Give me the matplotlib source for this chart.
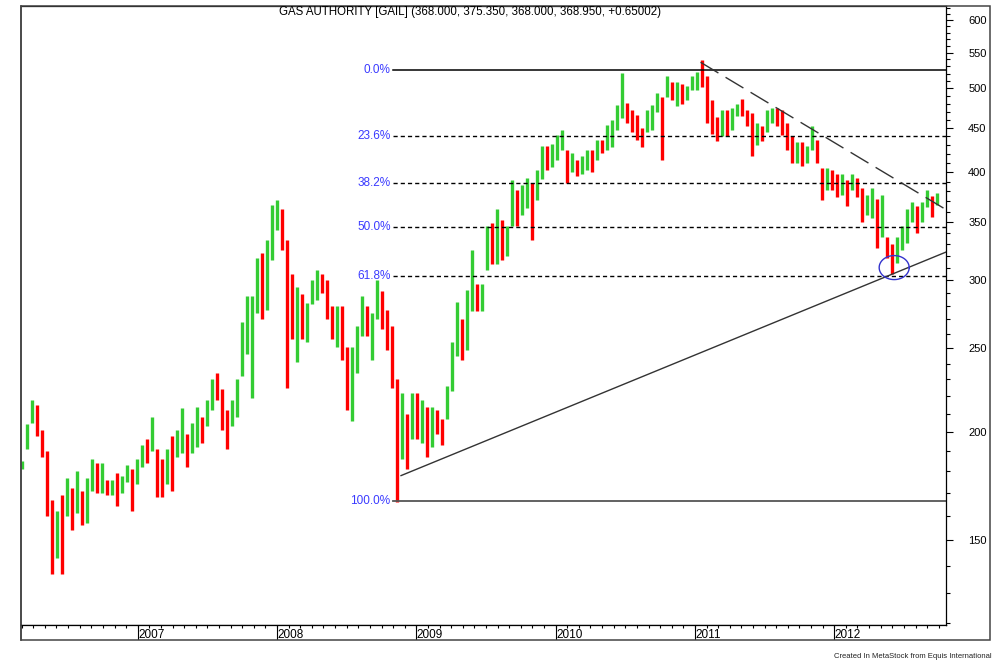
import matplotlib
matplotlib.use('Agg')
import matplotlib.pyplot as plt
import numpy as np
from matplotlib.ticker import FixedLocator, NullFormatter, FuncFormatter
from matplotlib.patches import Rectangle

plt.rcParams['font.family'] = ['Liberation Sans', 'DejaVu Sans']

title = 'GAS AUTHORITY [GAIL] (368.000, 375.350, 368.000, 368.950, +0.65002)'
credit = 'Created In MetaStock from Equis International'

# price bars (about one bar per fortnight)
first_bar = 2006.17
bar_step = 0.0359
highs = [185, 204, 218, 215, 201, 190, 167, 162, 169, 177,
         172, 180, 171, 177, 186, 184, 184, 176, 176, 179,
         178, 183, 181, 186, 193, 196, 208, 191, 186, 191,
         198, 201, 213, 199, 205, 214, 208, 218, 230, 234,
         224, 212, 218, 230, 268, 287, 287, 318, 322, 334,
         366, 371, 362, 334, 305, 294, 289, 282, 300, 308,
         305, 300, 280, 280, 280, 251, 251, 265, 287, 280,
         275, 300, 291, 277, 265, 230, 222, 210, 222, 222,
         218, 214, 214, 212, 207, 226, 254, 283, 270, 292,
         325, 297, 297, 346, 349, 362, 352, 346, 392, 381,
         386, 394, 388, 402, 429, 429, 431, 441, 448, 424,
         421, 413, 418, 424, 424, 436, 436, 454, 460, 478,
         521, 481, 472, 466, 450, 472, 478, 494, 489, 517,
         509, 509, 506, 503, 517, 522, 539, 517, 485, 463,
         472, 472, 475, 480, 486, 472, 468, 456, 452, 472,
         475, 475, 472, 456, 440, 433, 433, 429, 452, 436,
         404, 404, 402, 398, 398, 392, 398, 394, 383, 376,
         383, 372, 376, 336, 330, 336, 346, 362, 369, 365,
         369, 381, 375, 378]
lows = [181, 191, 205, 198, 187, 160, 137, 143, 137, 160,
        154, 161, 156, 157, 171, 170, 170, 169, 169, 164,
        170, 175, 162, 174, 182, 184, 190, 168, 168, 174,
        171, 187, 189, 182, 189, 192, 194, 203, 212, 218,
        201, 191, 203, 208, 232, 246, 219, 275, 270, 277,
        316, 343, 325, 225, 256, 241, 256, 254, 281, 284,
        290, 270, 256, 251, 242, 212, 206, 234, 258, 258,
        242, 270, 263, 249, 225, 166, 186, 181, 196, 196,
        194, 187, 192, 199, 193, 207, 223, 245, 242, 249,
        276, 276, 276, 308, 313, 313, 316, 320, 346, 346,
        357, 363, 334, 371, 393, 402, 405, 413, 424, 388,
        400, 396, 398, 402, 400, 413, 421, 424, 428, 448,
        462, 456, 445, 436, 428, 445, 448, 469, 413, 489,
        485, 477, 479, 485, 498, 498, 502, 456, 443, 434,
        440, 440, 448, 464, 464, 452, 418, 430, 434, 445,
        456, 452, 442, 424, 410, 410, 406, 410, 424, 410,
        371, 381, 381, 374, 376, 365, 381, 374, 350, 357,
        354, 327, 336, 318, 305, 314, 325, 331, 350, 340,
        350, 364, 355, 366]
closes = [183, 200, 212, 203, 190, 165, 150, 155, 148, 170,
          162, 172, 163, 170, 180, 176, 178, 172, 174, 170,
          175, 180, 170, 181, 189, 188, 200, 178, 174, 184,
          180, 195, 200, 190, 198, 205, 200, 212, 224, 222,
          210, 200, 212, 225, 255, 262, 280, 300, 290, 320,
          350, 360, 335, 300, 270, 280, 265, 275, 292, 300,
          296, 280, 265, 270, 255, 225, 240, 255, 280, 265,
          270, 290, 275, 260, 235, 200, 205, 195, 210, 205,
          212, 198, 205, 203, 200, 220, 245, 270, 255, 285,
          300, 285, 292, 335, 325, 345, 330, 340, 380, 360,
          375, 385, 360, 395, 420, 415, 425, 430, 435, 400,
          410, 405, 410, 415, 408, 428, 426, 445, 450, 470,
          475, 465, 455, 445, 440, 465, 470, 485, 480, 505,
          495, 500, 490, 498, 510, 515, 510, 470, 455, 445,
          460, 450, 465, 475, 470, 460, 430, 445, 440, 465,
          470, 460, 450, 430, 420, 425, 415, 420, 440, 415,
          380, 395, 390, 385, 392, 375, 390, 380, 360, 370,
          375, 335, 345, 325, 315, 330, 340, 355, 360, 350,
          362, 375, 365, 369]

# fibonacci retracement from the 2008 low to the 2010 high
fib_high = 525.0
fib_low = 166.4
fib_start = 2008.83
fib_levels = [0.0, 23.6, 38.2, 50.0, 61.8, 100.0]

support_x = [2008.89, 2012.80]
support_y = [178, 323]
resist_x = [2011.04, 2012.80]
resist_y = [536, 362]
circle_x, circle_y = 2012.43, 310

years = [2007, 2008, 2009, 2010, 2011, 2012]
price_ticks = [150, 200, 250, 300, 350, 400, 450, 500, 550, 600]

xmin, xmax = 2006.162, 2012.802
ymin, ymax = 119.5, 622.8

W, H = 1008, 660
fig = plt.figure(figsize=(W / 100, H / 100), dpi=100)


def box(x0, y0, x1, y1):
    return [x0 / W, 1 - y1 / H, (x1 - x0) / W, (y1 - y0) / H]


ax = fig.add_axes(box(21, 6, 946, 625))
dax = fig.add_axes(box(21, 625, 946, 640))

# bars
x = first_bar + bar_step * np.arange(len(closes))
hi = np.array(highs, dtype=float)
lo = np.array(lows, dtype=float)
c = np.array(closes, dtype=float)
up = np.r_[True, c[1:] >= c[:-1]]
ax.vlines(x[up], lo[up], hi[up], color='#33cc33', lw=2.4)
ax.vlines(x[~up], lo[~up], hi[~up], color='#ff0000', lw=2.4)

# fibonacci lines
rng = fib_high - fib_low
for lvl in fib_levels:
    p = fib_high - rng * lvl / 100
    if lvl == 0:
        ax.plot([fib_start, xmax], [p, p], color='black', lw=1.1)
    elif lvl == 100:
        ax.plot([fib_start, xmax], [p, p], color='#555555', lw=1.3)
    else:
        ax.plot([fib_start, xmax], [p, p], color='black', lw=1.0,
                dashes=(3, 2.2))
    ax.text(fib_start - 0.015, p, f'{lvl:.1f}%', color='#3a3aff',
            ha='right', va='center', fontsize=8.5)

# trend lines
ax.plot(support_x, support_y, color='#333333', lw=1.0)
ax.plot(resist_x, resist_y, color='#333333', lw=1.0, dashes=(15, 6))

# circle round the 2012 low
px_year = 925 / (xmax - xmin)
px_log = 619 / np.log(ymax / ymin)
t = np.linspace(0, 2 * np.pi, 120)
ax.plot(circle_x + 15 / px_year * np.cos(t),
        circle_y * np.exp(12 / px_log * np.sin(t)), color='#3333cc', lw=1.0)

ax.set_xlim(xmin, xmax)
ax.set_yscale('log')
ax.set_ylim(ymin, ymax)
ax.tick_params(axis='x', which='both', bottom=False, labelbottom=False)
ax.yaxis.tick_right()
ax.yaxis.set_major_locator(FixedLocator(price_ticks))
ax.yaxis.set_major_formatter(FuncFormatter(lambda v, _: f'{v:.0f}'))
ax.yaxis.set_minor_locator(FixedLocator(np.arange(120, 621, 10)))
ax.yaxis.set_minor_formatter(NullFormatter())
ax.tick_params(axis='y', which='major', length=5, width=0.8, pad=11,
               labelsize=8)
ax.tick_params(axis='y', which='minor', length=3, width=0.8)
ax.spines['left'].set_color('#555555')
ax.spines['left'].set_linewidth(1.2)
for s in ['top', 'right', 'bottom']:
    ax.spines[s].set_linewidth(0.9)

# date strip
dax.set_xlim(xmin, xmax)
dax.set_ylim(0, 1)
dax.set_yticks([])
months = [y + m / 12 for y in range(2006, 2013) for m in range(12)]
dax.xaxis.set_ticks_position('top')
dax.set_xticks([m for m in months if xmin < m < xmax])
dax.tick_params(axis='x', direction='in', length=2.2, width=0.8,
                labeltop=False, labelbottom=False)
dax.vlines(years, 0, 1, color='black', lw=0.8)
for yr in years:
    dax.text(yr + 0.004, 0.3, str(yr), ha='left', va='center', fontsize=8.5)
dax.spines['right'].set_visible(False)
dax.spines['left'].set_color('#555555')
dax.spines['left'].set_linewidth(1.2)
dax.spines['top'].set_linewidth(0.9)
dax.spines['bottom'].set_visible(False)

# outer frame
fig.add_artist(Rectangle((21 / W, 20 / H), 969 / W, 634 / H,
                         transform=fig.transFigure, fill=False,
                         ec='#444444', lw=1.1))

fig.text(470 / W, 1 - 12.5 / H, title, ha='center', va='center', fontsize=8.3)
fig.text(992 / W, 1 - 656 / H, credit, ha='right', va='center',
         fontsize=5.5, color='#222222')

fig.savefig('out.png', dpi=100)
